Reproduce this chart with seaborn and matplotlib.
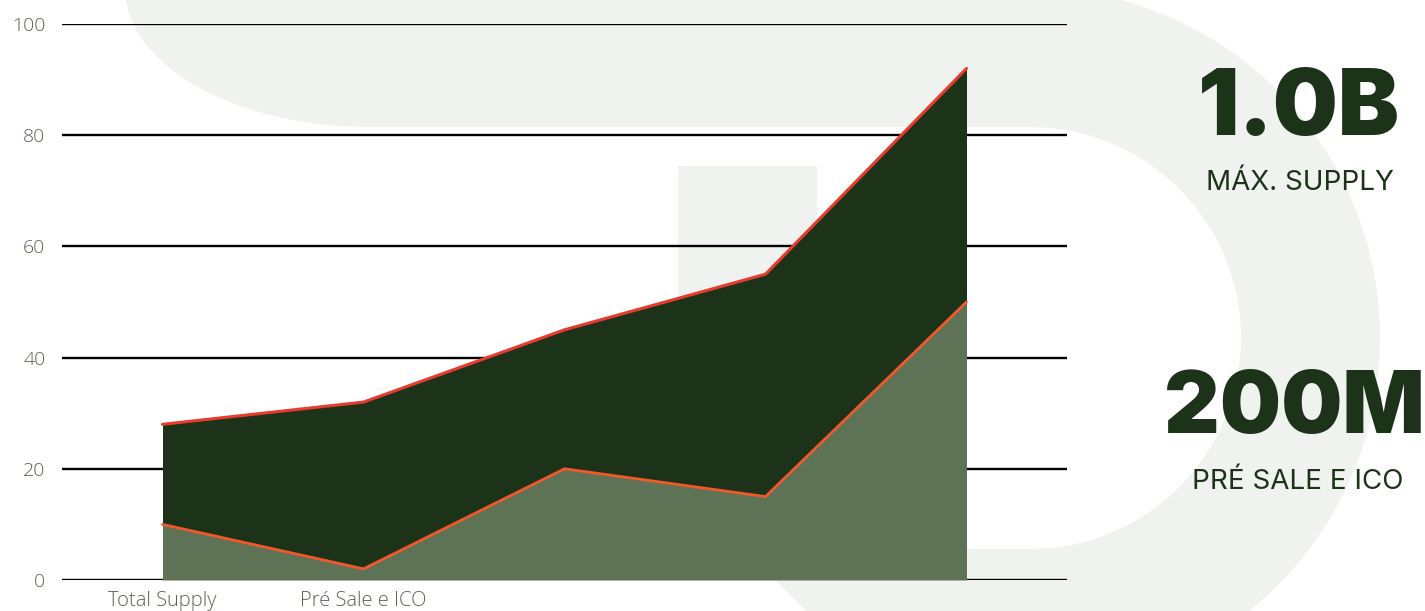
import numpy as np
import matplotlib
matplotlib.use("Agg")
import matplotlib.pyplot as plt
from matplotlib.patches import PathPatch, Rectangle
from matplotlib.path import Path
import seaborn as sns

# dados
categorias = ["Total Supply", "Pré Sale e ICO", "", "", ""]
serie_base = [10, 2, 20, 15, 50]       # camada de baixo
serie_topo = [18, 30, 25, 40, 42]      # camada de cima (empilhada)
y_ticks = [0, 20, 40, 60, 80, 100]

verde_escuro = "#1c3319"
verde_claro = "#5e7256"
laranja = "#f2592a"
vermelho = "#e63b2e"
cinza_fundo = "#f0f2ef"
cor_ticks = "#56664f"

sns.set_style("white")
plt.rcParams['font.family'] = ['Open Sans', 'DejaVu Sans']

W, H = 1425, 611
fig = plt.figure(figsize=(W / 100, H / 100), dpi=100)


def fx(x, y):
    # pixel da imagem (y para baixo) -> fração da figura
    return (x / W, 1 - y / H)


# forma decorativa do fundo (um "D" grande)
cx, cy, r_out, r_in = 1030, 338, 350, 211
pts = [(100, -20), (cx, -20)]
for a in np.linspace(-90, 90, 80):
    t = np.radians(a)
    pts.append((cx + r_out * np.cos(t), cy + r_out * np.sin(t)))
pts += [(cx, 700), (895, 700), (744, 549), (cx, 549)]
for a in np.linspace(90, -90, 80):
    t = np.radians(a)
    pts.append((cx + r_in * np.cos(t), cy + r_in * np.sin(t)))
pts.append((370, 127))
for t in np.linspace(0, np.pi / 2, 40):
    pts.append((370 - 245 * np.sin(t), -12 + 139 * np.cos(t)))
pts.append((120, -20))
forma = Path([fx(*p) for p in pts], closed=False)
fig.patches.append(PathPatch(forma, facecolor=cinza_fundo, edgecolor="none",
                             transform=fig.transFigure, zorder=-5))
x0, y0 = fx(678, 580)
x1, y1 = fx(817, 166)
fig.patches.append(Rectangle((x0, y0), x1 - x0, y1 - y0, facecolor=cinza_fundo,
                             edgecolor="none", transform=fig.transFigure, zorder=-5))

ax = fig.add_axes([62 / W, 31 / H, (1067 - 62) / W, (580 - 24) / H])
ax.set_facecolor("none")

x = np.arange(len(categorias))
base = np.array(serie_base)
topo = base + np.array(serie_topo)

for i in range(len(x) - 1):
    s = slice(i, i + 2)
    ax.fill_between(x[s], 0, base[s], color=verde_claro, lw=0, zorder=2)
    ax.fill_between(x[s], base[s], topo[s], color=verde_escuro, lw=0, zorder=2)

sns.lineplot(x=x, y=base, color=laranja, lw=2, ax=ax, zorder=4)
sns.lineplot(x=x, y=topo, color=vermelho, lw=2.2, ax=ax, zorder=4)

ax.set_xlim(-0.5, 4.5)
ax.set_ylim(0, 100)
ax.set_yticks(y_ticks)
ax.set_xticks(x)
ax.set_xticklabels(categorias)
ax.yaxis.grid(True, color="black", lw=1.7)
ax.xaxis.grid(False)
ax.set_axisbelow(True)
for sp in ax.spines.values():
    sp.set_visible(False)
ax.tick_params(axis="y", length=0, pad=12, labelsize=14, labelcolor=cor_ticks)
ax.tick_params(axis="x", length=0, pad=8, labelsize=14.5, labelcolor=cor_ticks)
for lab in ax.get_xticklabels() + ax.get_yticklabels():
    lab.set_fontweight("light")
ax.set_xlabel("")
ax.set_ylabel("")

# textos da direita
grande = dict(family=["Inter", "DejaVu Sans"], fontweight="black", color=verde_escuro,
              ha="center", va="baseline")
pequeno = dict(family=["Inter", "DejaVu Sans"], fontweight="normal", color=verde_escuro,
               ha="center", va="baseline")
fig.text(*fx(1299, 135), "1.0B", fontsize=66, **grande)
fig.text(*fx(1300, 190), "MÁX. SUPPLY", fontsize=20, **pequeno)
fig.text(*fx(1294, 433), "200M", fontsize=62, **grande)
fig.text(*fx(1298, 489), "PRÉ SALE E ICO", fontsize=20, **pequeno)

fig.savefig("out.png", dpi=100)
